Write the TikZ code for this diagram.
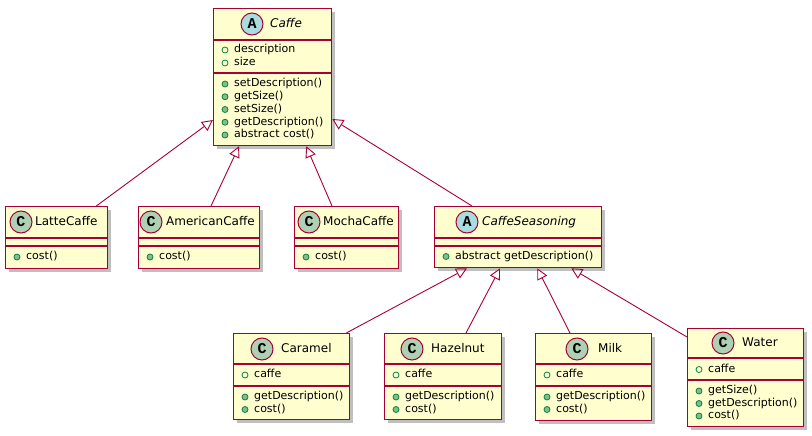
\documentclass[tikz,border=0pt]{standalone}
\usepackage{fontspec}
\setmainfont{DejaVu Sans}
\newfontfamily\badgefont{Liberation Mono}
\usetikzlibrary{arrows.meta,shadows}
\definecolor{umlred}{HTML}{A80036}
\definecolor{umlfill}{HTML}{FEFECE}
\definecolor{classgreen}{HTML}{ADD1B2}
\definecolor{abstractblue}{HTML}{A9DCDF}
\definecolor{opfill}{HTML}{84BE84}
\definecolor{opdraw}{HTML}{038048}
\tikzset{
  classbox/.style={rectangle,draw=umlred,fill=umlfill,line width=1.3pt,inner sep=0pt,anchor=north west,
    drop shadow={shadow xshift=3pt,shadow yshift=-3pt,fill=black,opacity=.25}},
  sepline/.style={draw=umlred,line width=1.3pt},
  badge/.style={circle,draw=umlred,line width=1pt,minimum size=22pt,inner sep=0pt,
    font=\badgefont\bfseries\fontsize{15}{15}\selectfont},
  cbadge/.style={badge,fill=classgreen},
  abadge/.style={badge,fill=abstractblue},
  classname/.style={inner sep=0pt,anchor=west,text height=9pt,text depth=2.5pt,font=\fontsize{12}{14}\selectfont},
  member/.style={inner sep=0pt,anchor=west,text height=8pt,text depth=2.5pt,font=\fontsize{11}{13}\selectfont},
  fieldmark/.style={draw=opdraw,line width=.8pt},
  opmark/.style={draw=opdraw,fill=opfill,line width=.8pt},
  extends/.style={draw=umlred,line width=.9pt,-{Triangle[open,length=11pt,width=11pt]}}
}
\begin{document}
\begin{tikzpicture}[x=1pt,y=-1pt]
  \useasboundingbox (0,0) rectangle (812,436);
  % Caffe
  \node[classbox,minimum width=118pt,minimum height=137pt] (caffe) at (213,8) {};
  \draw[sepline] (213,40) -- (331,40);
  \draw[sepline] (213,73) -- (331,73);
  \node[abadge] (caffe-badge) at (252,24) {A};
  \node[classname,font=\fontsize{12}{14}\selectfont\itshape] (caffe-name) at (270,24) {Caffe};
  \draw[fieldmark] (225,50) circle (3);
  \node[member] (caffe-f1) at (234,50) {description};
  \draw[fieldmark] (225,63) circle (3);
  \node[member] (caffe-f2) at (234,63) {size};
  \draw[opmark] (225,84) circle (3);
  \node[member] (caffe-m1) at (234,84) {setDescription()};
  \draw[opmark] (225,96.75) circle (3);
  \node[member] (caffe-m2) at (234,96.75) {getSize()};
  \draw[opmark] (225,109.5) circle (3);
  \node[member] (caffe-m3) at (234,109.5) {setSize()};
  \draw[opmark] (225,122.25) circle (3);
  \node[member] (caffe-m4) at (234,122.25) {getDescription()};
  \draw[opmark] (225,135) circle (3);
  \node[member] (caffe-m5) at (234,135) {abstract cost()};
  % LatteCaffe
  \node[classbox,minimum width=102pt,minimum height=62pt] (latte) at (5,206) {};
  \draw[sepline] (5,238) -- (107,238);
  \draw[sepline] (5,246) -- (107,246);
  \node[cbadge] (latte-badge) at (21,222) {C};
  \node[classname] (latte-name) at (35,222) {LatteCaffe};
  \draw[opmark] (17,257) circle (3);
  \node[member] (latte-m1) at (26,257) {cost()};
  % AmericanCaffe
  \node[classbox,minimum width=121pt,minimum height=62pt] (american) at (138,206) {};
  \draw[sepline] (138,238) -- (259,238);
  \draw[sepline] (138,246) -- (259,246);
  \node[cbadge] (american-badge) at (151,222) {C};
  \node[classname] (american-name) at (166,222) {AmericanCaffe};
  \draw[opmark] (150,257) circle (3);
  \node[member] (american-m1) at (159,257) {cost()};
  % MochaCaffe
  \node[classbox,minimum width=104pt,minimum height=62pt] (mocha) at (294,206) {};
  \draw[sepline] (294,238) -- (398,238);
  \draw[sepline] (294,246) -- (398,246);
  \node[cbadge] (mocha-badge) at (309,222) {C};
  \node[classname] (mocha-name) at (323,222) {MochaCaffe};
  \draw[opmark] (306,257) circle (3);
  \node[member] (mocha-m1) at (315,257) {cost()};
  % CaffeSeasoning
  \node[classbox,minimum width=167pt,minimum height=61pt] (seasoning) at (434,206) {};
  \draw[sepline] (434,238) -- (601,238);
  \draw[sepline] (434,246) -- (601,246);
  \node[abadge] (seasoning-badge) at (467,222) {A};
  \node[classname,font=\fontsize{12}{14}\selectfont\itshape] (seasoning-name) at (482,222) {CaffeSeasoning};
  \draw[opmark] (446,256.5) circle (3);
  \node[member] (seasoning-m1) at (455,256.5) {abstract getDescription()};
  % Caramel
  \node[classbox,minimum width=116pt,minimum height=86pt] (caramel) at (233,333) {};
  \draw[sepline] (233,364) -- (349,364);
  \draw[sepline] (233,386) -- (349,386);
  \node[cbadge] (caramel-badge) at (262,349) {C};
  \node[classname] (caramel-name) at (281,349) {Caramel};
  \draw[fieldmark] (245,375) circle (3);
  \node[member] (caramel-f1) at (254,375) {caffe};
  \draw[opmark] (245,397) circle (3);
  \node[member] (caramel-m1) at (254,397) {getDescription()};
  \draw[opmark] (245,409.5) circle (3);
  \node[member] (caramel-m2) at (254,409.5) {cost()};
  % Hazelnut
  \node[classbox,minimum width=117pt,minimum height=86pt] (hazelnut) at (384,333) {};
  \draw[sepline] (384,364) -- (501,364);
  \draw[sepline] (384,386) -- (501,386);
  \node[cbadge] (hazelnut-badge) at (412,349) {C};
  \node[classname] (hazelnut-name) at (431,349) {Hazelnut};
  \draw[fieldmark] (396,375) circle (3);
  \node[member] (hazelnut-f1) at (405,375) {caffe};
  \draw[opmark] (396,397) circle (3);
  \node[member] (hazelnut-m1) at (405,397) {getDescription()};
  \draw[opmark] (396,409.5) circle (3);
  \node[member] (hazelnut-m2) at (405,409.5) {cost()};
  % Milk
  \node[classbox,minimum width=116pt,minimum height=87pt] (milk) at (535,333) {};
  \draw[sepline] (535,364) -- (651,364);
  \draw[sepline] (535,386) -- (651,386);
  \node[cbadge] (milk-badge) at (577,349) {C};
  \node[classname] (milk-name) at (598,349) {Milk};
  \draw[fieldmark] (547,375) circle (3);
  \node[member] (milk-f1) at (556,375) {caffe};
  \draw[opmark] (547,397) circle (3);
  \node[member] (milk-m1) at (556,397) {getDescription()};
  \draw[opmark] (547,409.5) circle (3);
  \node[member] (milk-m2) at (556,409.5) {cost()};
  % Water
  \node[classbox,minimum width=116pt,minimum height=98pt] (water) at (687,328) {};
  \draw[sepline] (687,358) -- (803,358);
  \draw[sepline] (687,380) -- (803,380);
  \node[cbadge] (water-badge) at (723,343) {C};
  \node[classname] (water-name) at (742,343) {Water};
  \draw[fieldmark] (699,369.5) circle (3);
  \node[member] (water-f1) at (708,369.5) {caffe};
  \draw[opmark] (699,391) circle (3);
  \node[member] (water-m1) at (708,391) {getSize()};
  \draw[opmark] (699,403.5) circle (3);
  \node[member] (water-m2) at (708,403.5) {getDescription()};
  \draw[opmark] (699,416) circle (3);
  \node[member] (water-m3) at (708,416) {cost()};
  % generalisations
  \draw[extends] ([xshift=-12pt]latte.north east) -- ([yshift=-112pt]caffe.north west);
  \draw[extends] ([xshift=73pt]american.north west) -- ([xshift=26pt]caffe.south west);
  \draw[extends] ([xshift=38pt]mocha.north west) -- ([xshift=-26pt]caffe.south east);
  \draw[extends] ([xshift=38pt]seasoning.north west) -- ([yshift=-111pt]caffe.north east);
  \draw[extends] ([xshift=-4pt]caramel.north east) -- ([xshift=33pt]seasoning.south west);
  \draw[extends] ([xshift=82pt]hazelnut.north west) -- ([xshift=66pt]seasoning.south west);
  \draw[extends] ([xshift=35pt]milk.north west) -- ([xshift=-65pt]seasoning.south east);
  \draw[extends] ([yshift=-9pt]water.north west) -- ([xshift=-31pt]seasoning.south east);
\end{tikzpicture}
\end{document}
